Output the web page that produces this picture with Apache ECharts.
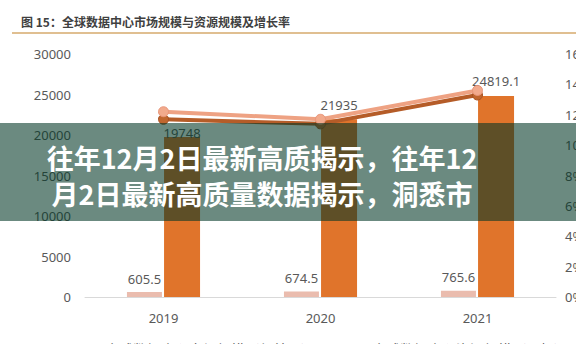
<!DOCTYPE html>
<html>
<head>
<meta charset="utf-8">
<script src="https://cdn.jsdelivr.net/npm/echarts@6/dist/echarts.min.js"></script>
<style>
  html, body { margin: 0; padding: 0; background: #ffffff; }
  #chart { width: 576px; height: 344px; }
</style>
</head>
<body>
<div id="chart"></div>
<script>
// Years on the category axis
const years = ['2019', '2020', '2021'];
// Global data-center market size (亿美元)
const marketSize = [605.5, 674.5, 765.6];
// Global data-center resource scale
const resourceScale = [19748, 21935, 24819.1];
// Growth rates (%) on the right axis
const growthA = [12.2, 11.7, 13.6];
const growthB = [11.7, 11.4, 13.3];

const seriesNames = [
  '全球数据中心市场规模（亿美元）',
  '全球数据中心资源规模（万架）',
  '市场规模增长率',
  '资源规模增长率'
];
const titleText = '图 15：全球数据中心市场规模与资源规模及增长率';
const bannerLines = [
  '往年12月2日最新高质揭示，往年12',
  '月2日最新高质量数据揭示，洞悉市'
];

const numFont = '"Noto Sans", "Noto Sans CJK SC", sans-serif';
const cjkFont = '"Noto Sans CJK SC", "Noto Sans", sans-serif';

// label gaps above the resource bars (the first sits tight under the lines)
const resourceLabelGap = [-2, 8, 8];

const chart = echarts.init(document.getElementById('chart'), null, { renderer: 'svg' });

chart.setOption({
  animation: false,
  backgroundColor: '#ffffff',
  grid: { left: 85, right: 20, top: 54, bottom: 47, containLabel: false, outerBoundsMode: 'none' },
  legend: {
    data: [seriesNames[0], seriesNames[1]],
    top: 337,
    left: 70,
    itemGap: 27,
    itemWidth: 25,
    itemHeight: 10,
    textStyle: { fontFamily: cjkFont, fontSize: 14, color: '#595959' }
  },
  xAxis: {
    type: 'category',
    data: years,
    axisTick: { show: false },
    axisLine: { lineStyle: { color: '#d9d9d9', width: 1 } },
    axisLabel: { color: '#595959', fontFamily: numFont, fontSize: 13, margin: 14 }
  },
  yAxis: [
    {
      type: 'value', min: 0, max: 30000, interval: 5000,
      splitLine: { show: false },
      axisLine: { show: false }, axisTick: { show: false },
      axisLabel: { color: '#595959', fontFamily: numFont, fontSize: 13, margin: 14,
                   formatter: v => String(v) }
    },
    {
      type: 'value', min: 0, max: 16, interval: 2,
      splitLine: { show: false },
      axisLine: { show: false }, axisTick: { show: false },
      axisLabel: { color: '#595959', fontFamily: numFont, fontSize: 13, margin: 9,
                   formatter: v => v + '%' }
    }
  ],
  series: [
    {
      name: seriesNames[0], type: 'bar', data: marketSize,
      barWidth: 35, barGap: '6%',
      itemStyle: { color: '#eabcae' },
      label: { show: true, position: 'top', distance: 7, color: '#595959',
               fontFamily: numFont, fontSize: 13, formatter: p => String(p.value) }
    },
    {
      name: seriesNames[1], type: 'bar',
      data: resourceScale.map((v, i) => ({ value: v, label: { distance: resourceLabelGap[i] } })),
      barWidth: 36,
      itemStyle: { color: '#e0742b' },
      label: { show: true, position: 'top', color: '#595959',
               fontFamily: numFont, fontSize: 13, formatter: p => String(p.value) }
    },
    {
      name: seriesNames[2], type: 'line', yAxisIndex: 1, data: growthA, z: 5,
      symbol: 'circle', symbolSize: 10,
      lineStyle: { color: '#eea283', width: 4 },
      itemStyle: { color: '#f2aa8c', borderColor: '#e9967a', borderWidth: 1 }
    },
    {
      name: seriesNames[3], type: 'line', yAxisIndex: 1, data: growthB, z: 4,
      symbol: 'circle', symbolSize: 10,
      lineStyle: { color: '#b55c28', width: 4 },
      itemStyle: { color: '#c0662e', borderColor: '#a85224', borderWidth: 1 }
    }
  ],
  graphic: [
    {
      type: 'text', left: 21, top: 15, z: 10,
      style: { text: titleText, font: 'bold 12px ' + cjkFont, fill: '#404040' }
    },
    {
      type: 'line', z: 10,
      shape: { x1: 12, y1: 33, x2: 576, y2: 33 },
      style: { stroke: '#d6aa6c', lineWidth: 1.5 }
    },
    {
      type: 'rect', z: 100,
      shape: { x: 0, y: 123, width: 576, height: 98 },
      style: { fill: 'rgba(0,53,36,0.58)' }
    },
    {
      type: 'text', z: 101, x: 262, y: 157,
      style: { text: bannerLines[0], font: 'bold 27px ' + cjkFont, fill: '#ffffff',
               textAlign: 'center', textVerticalAlign: 'middle' }
    },
    {
      type: 'text', z: 101, x: 262, y: 193,
      style: { text: bannerLines[1], font: 'bold 27px ' + cjkFont, fill: '#ffffff',
               textAlign: 'center', textVerticalAlign: 'middle' }
    }
  ]
});
</script>
</body>
</html>
